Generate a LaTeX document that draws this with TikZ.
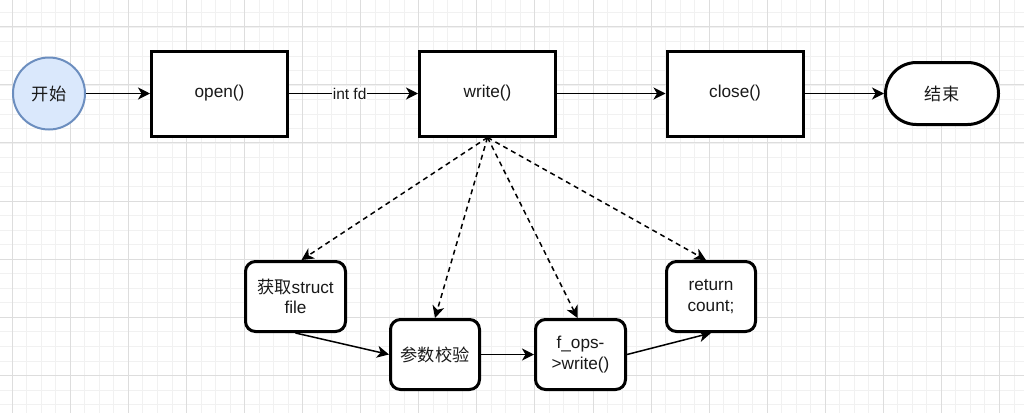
\documentclass[tikz,border=0pt]{standalone}
\usepackage{fontspec}
\setmainfont{Liberation Sans}
\newfontfamily\cjk{Noto Sans CJK SC}
\usetikzlibrary{arrows.meta}
\definecolor{gridminor}{HTML}{F1F1F1}
\definecolor{gridmajor}{HTML}{DDDDDD}
\definecolor{startfill}{HTML}{DAE8FC}
\definecolor{startdraw}{HTML}{6C8EBF}
\begin{document}
\begin{tikzpicture}[x=1pt,y=-1pt,
  txt/.style={font=\fontsize{17.2}{20.5}\selectfont, text=black!90},
  proc/.style={txt, draw, line width=3pt, minimum width=136pt, minimum height=85pt, inner sep=0pt, fill=white},
  subbox/.style={txt, draw, line width=3pt, rounded corners=10pt, minimum height=70pt, inner sep=0pt, align=center, fill=white},
  conn/.style={line width=1.5pt, -{Stealth[length=12pt,width=12pt,inset=3.5pt]}},
  dconn/.style={conn, dash pattern=on 5pt off 4pt}
]
\useasboundingbox (0,0) rectangle (1024,413);
\fill[white] (0,0) rectangle (1024,413);
% grid
\foreach \i in {0,...,71} {
  \draw[gridminor, line width=1pt] (-2.2+14.517*\i,0) -- (-2.2+14.517*\i,413);
}
\foreach \i in {0,...,29} {
  \draw[gridminor, line width=1pt] (0,-1.9+14.517*\i) -- (1024,-1.9+14.517*\i);
}
\foreach \i in {0,...,17} {
  \draw[gridmajor, line width=1pt] (12.3+58.07*\i,0) -- (12.3+58.07*\i,413);
}
\foreach \i in {0,...,7} {
  \draw[gridmajor, line width=1pt] (0,26.8+58.07*\i) -- (1024,26.8+58.07*\i);
}

% main row
\node[txt, circle, draw=startdraw, fill=startfill, line width=2pt, minimum size=72pt, inner sep=0pt] (start) at (49,93.5) {\cjk 开始};
\node[proc] (open) at (219.5,93.5) {open()};
\node[proc] (write) at (487.5,93.5) {write()};
\node[proc] (close) at (735,93.5) {close()};
\node[txt, draw, line width=3pt, rounded corners=31pt, minimum width=113pt, minimum height=62pt, inner sep=0pt, fill=white] (end) at (942,93.5) {\cjk 结束};

% sub steps
\node[subbox, minimum width=100pt] (gq) at (295.5,296.5) {{\cjk 获取}struct\\file};
\node[subbox, minimum width=89pt] (cs) at (435,354.5) {\cjk 参数校验};
\node[subbox, minimum width=90pt] (fo) at (580.5,354.5) {f\_ops-\\>write()};
\node[subbox, minimum width=89pt] (ret) at (711,296.5) {return\\count;};

% connectors
\draw[conn] (start) -- (open);
\draw[conn] (open) -- node[pos=0.47, fill=white, inner sep=1pt, font=\fontsize{15.5}{18}\selectfont, text=black!90] {int fd} (write);
\draw[conn] (write) -- (close);
\draw[conn] (close) -- (end);

\coordinate (ws) at (write.south);
\draw[dconn] (ws) -- ([xshift=6pt]gq.north);
\draw[dconn] (ws) -- (cs.north);
\draw[dconn] (ws) -- ([xshift=-3pt]fo.north);
\draw[dconn] (ws) -- ([xshift=-5pt]ret.north);

\draw[conn] (gq.south) -- (cs.west);
\draw[conn] (cs) -- (fo);
\draw[conn] (fo.east) -- (ret.south);
\end{tikzpicture}
\end{document}
